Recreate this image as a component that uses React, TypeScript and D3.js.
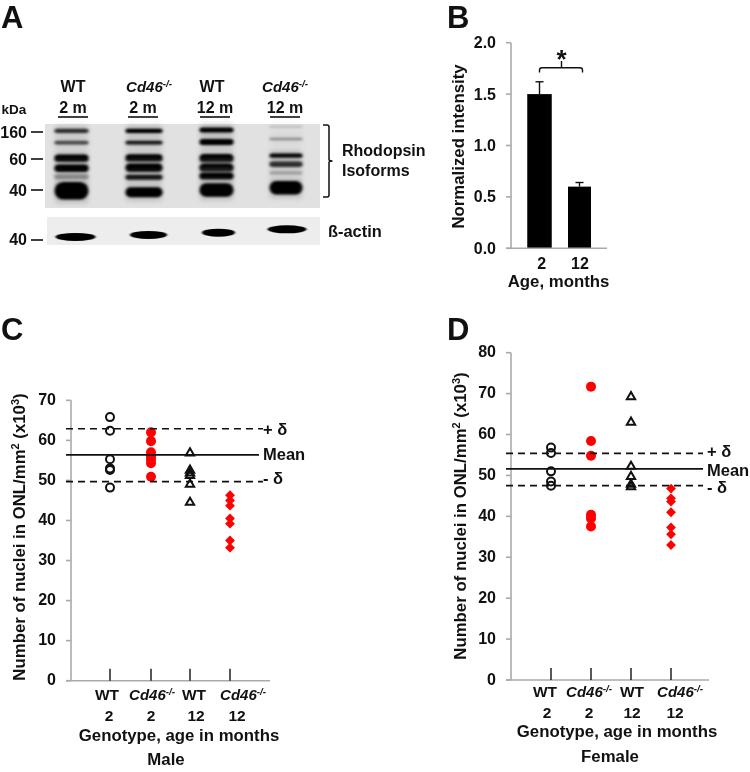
import React from "react";
import * as d3 from "d3";

const FONT = "'Liberation Sans', Arial, sans-serif";

// Panel A: lanes and bands [migration %, thickness %, darkness]
const laneNames = [["WT", "2 m"], ["Cd46", "2 m"], ["WT", "12 m"], ["Cd46", "12 m"]];
const bandLane1 = [[8.3, 5, 0.8], [22.3, 4.5, 0.68], [40.8, 9, 1], [52.7, 9, 1], [62.7, 6, 0.38], [79.4, 21, 1]];
const bandLane2 = [[8.3, 5, 1], [22.3, 4.5, 0.92], [40.5, 9, 1], [52, 10, 1], [63.4, 6, 0.92], [81.3, 12, 1]];
const bandLane3 = [[7.1, 6, 1], [21.4, 7, 1], [40.8, 10, 1], [52, 10, 1], [61.9, 8.5, 1], [78.6, 16, 1]];
const bandLane4 = [[3.2, 2.5, 0.14], [17.9, 3, 0.35], [37.7, 5, 1], [47.9, 6.5, 0.8], [58.3, 4.5, 0.25], [76, 16, 1]];
const lanes = [bandLane1, bandLane2, bandLane3, bandLane4];
const laneCentres = [71.5, 144, 216.5, 286];
const laneWidths = [34, 37, 34, 33];
const actinCentres = [75.5, 148.5, 218.5, 287];
const actinPos = [71, 64, 56, 44];
const actinWidths = [40, 37, 33, 39];

// Panel B
const ageLabels = ["2", "12"];
const barValues = [1.5, 0.6];
const barErrors = [0.12, 0.04];
const bTicks = [0, 0.5, 1, 1.5, 2];

// Panel C
const cWT2 = [65.8, 62.4, 55.3, 53.0, 52.6, 48.2];
const cKO2 = [62, 59.8, 57, 56, 55.2, 54.3, 50.9];
const cWT12 = [56.8, 52.5, 51.8, 51.2, 49, 44.5];
const cKO12 = [46.3, 45, 43.7, 40.5, 39.2, 35, 33.2];
const cLines = { mean: 56.4, plus: 62.9, minus: 49.7 };

// Panel D
const dWT2 = [56.8, 55.5, 51, 48.5, 47.5];
const dKO2 = [71.7, 58.4, 54.8, 40.4, 39.5, 37.5];
const dWT12 = [69.2, 63, 52.2, 49.7, 47.8, 47.2];
const dKO12 = [46.8, 44.4, 43.6, 41, 37.3, 35.6, 33];
const dLines = { mean: 51.6, plus: 55.4, minus: 47.5 };

const T = (p: any) => <text fontFamily={FONT} fontWeight={700} fill="#111" {...p} />;

function KO({ x, y, size = 15 }: any) {
  return (
    <T x={x} y={y} fontSize={size} textAnchor="middle">
      <tspan fontStyle="italic">Cd46</tspan>
      <tspan fontStyle="italic" fontSize={size * 0.65} dy={-size * 0.33}>-/-</tspan>
    </T>
  );
}

function Blot() {
  const py = d3.scaleLinear().domain([0, 100]).range([124, 208]);
  const dark = d3.scaleLinear<string>().domain([0, 1]).range(["#d8d8d8", "#050505"]);
  const ticksA: [string, number][] = [["160", 132], ["60", 159], ["40", 190]];
  const headWT = [73, 0, 212, 0];
  const headKO = [0, 149, 0, 285];
  const headAge = [73, 143, 215, 285];
  const ruleL = [58, 128, 200, 270];
  return (
    <g>
      <defs>
        <filter id="blur" x="-30%" y="-150%" width="160%" height="400%">
          <feGaussianBlur stdDeviation="1.6 1.3" />
        </filter>
        <filter id="haze" x="-30%" y="-150%" width="160%" height="400%">
          <feGaussianBlur stdDeviation="2.5 3" />
        </filter>
        <filter id="blur2" x="-20%" y="-100%" width="140%" height="300%">
          <feGaussianBlur stdDeviation="1 0.7" />
        </filter>
      </defs>
      <rect x={45} y={124} width={275} height={84} fill="#e1e1e1" />
      <rect x={47} y={217} width={273} height={28} fill="#ededed" />
      {lanes.map((bands, i) => {
        const w = laneWidths[i];
        return bands.map((b, j) => {
          const h = py(b[1]) - py(0);
          const y0 = py(b[0]) - h / 2;
          return (
            <g key={`${i}-${j}`}>
              <rect x={laneCentres[i] - w / 2 + 1} y={y0 - 2} width={w - 2} height={h + 4} fill="#888"
                opacity={0.6 * b[2]} filter="url(#haze)" />
              <rect x={laneCentres[i] - w / 2} y={y0} width={w} height={h} rx={h / 2} fill={dark(b[2])}
                filter="url(#blur)" />
            </g>
          );
        });
      })}
      {actinCentres.map((cx, i) => (
        <ellipse key={i} cx={cx} cy={217 + (actinPos[i] / 100) * 28} rx={actinWidths[i] / 2} ry={4}
          fill="#050505" filter="url(#blur2)" />
      ))}
      {laneNames.map((n, i) => (
        <g key={i}>
          {n[0] === "WT"
            ? <T x={headWT[i]} y={92} fontSize={16} textAnchor="middle">WT</T>
            : <KO x={headKO[i]} y={92} size={15} />}
          <T x={headAge[i]} y={113} fontSize={16} textAnchor="middle">{n[1]}</T>
          <line x1={ruleL[i]} x2={ruleL[i] + 30} y1={117} y2={117} stroke="#111" strokeWidth={1.6} />
        </g>
      ))}
      <T x={1.5} y={113.5} fontSize={13.5}>kDa</T>
      {ticksA.map(([l, y]) => (
        <g key={l}>
          <T x={27} y={y + 5.5} fontSize={16} textAnchor="end">{l}</T>
          <line x1={31} x2={43} y1={y} y2={y} stroke="#111" strokeWidth={1.6} />
        </g>
      ))}
      <T x={27} y={245} fontSize={16} textAnchor="end">40</T>
      <line x1={31} x2={43} y1={240} y2={240} stroke="#111" strokeWidth={1.6} />
      <path d="M323,125 H327 Q329,125 329,127 V159.5 Q329,161 332.5,161 Q329,161 329,162.5 V195 Q329,197 327,197 H323"
        fill="none" stroke="#111" strokeWidth={1.5} />
      <T x={342} y={156} fontSize={16}>Rhodopsin</T>
      <T x={342} y={176} fontSize={16}>Isoforms</T>
      <T x={328} y={236.5} fontSize={16.4}>ß-actin</T>
    </g>
  );
}

function BarPanel() {
  const y = d3.scaleLinear().domain([0, 2]).range([248.3, 42.7]);
  const centres = [539.5, 579.5];
  const widths = [24.5, 23];
  const labelX = [541.7, 580];
  return (
    <g>
      {barValues.map((v, i) => (
        <g key={i}>
          <line x1={centres[i]} x2={centres[i]} y1={y(v)} y2={y(v + barErrors[i])} stroke="#111" strokeWidth={1.4} />
          <line x1={centres[i] - 4} x2={centres[i] + 4} y1={y(v + barErrors[i])} y2={y(v + barErrors[i])} stroke="#111" strokeWidth={1.4} />
          <rect x={centres[i] - widths[i] / 2} width={widths[i]} y={y(v)} height={y(0) - y(v)} fill="#000" />
          <T x={labelX[i]} y={269} fontSize={16} textAnchor="middle">{ageLabels[i]}</T>
        </g>
      ))}
      <line x1={511} x2={511} y1={y(2)} y2={y(0)} stroke="#aaa" strokeWidth={1.6} />
      <line x1={506} x2={607} y1={y(0)} y2={y(0)} stroke="#aaa" strokeWidth={1.6} />
      {bTicks.map((t) => (
        <g key={t}>
          <line x1={506} x2={511} y1={y(t)} y2={y(t)} stroke="#aaa" strokeWidth={1.6} />
          <T x={496} y={y(t) + 5.5} fontSize={16} textAnchor="end">{t.toFixed(1)}</T>
        </g>
      ))}
      <path d="M539.5,72.5 V70 Q539.5,67.7 542,67.7 H580 Q582.5,67.7 582.5,70 V72.5 M561.5,67.7 V61"
        fill="none" stroke="#111" strokeWidth={1.4} />
      <T x={561.5} y={68} fontSize={26} textAnchor="middle">*</T>
      <T x={464} y={146.5} fontSize={16.8} textAnchor="middle" transform="rotate(-90 464 146.5)">Normalized intensity</T>
      <T x={558.5} y={287} fontSize={16.8} textAnchor="middle">Age, months</T>
    </g>
  );
}

function Marks({ values, cx, y, kind }: any) {
  return values.map((v: number, i: number) => {
    const cy = y(v);
    if (kind === "open-circle")
      return <circle key={i} cx={cx} cy={cy} r={4} fill="none" stroke="#111" strokeWidth={2} />;
    if (kind === "red-circle")
      return <circle key={i} cx={cx} cy={cy} r={5} fill="#fe0000" />;
    if (kind === "triangle") {
      const p = d3.symbol().type(d3.symbolTriangle).size(30)();
      return <path key={i} d={p!} transform={`translate(${cx},${cy})`} fill="none" stroke="#111" strokeWidth={2} />;
    }
    const p = d3.symbol().type(d3.symbolSquare).size(48)();
    return <path key={i} d={p!} transform={`translate(${cx},${cy}) rotate(45)`} fill="#fe0000" />;
  });
}

function Scatter({ axisX, top, bottom, xEnd, yMax, ticks, groups, lines, tickXs, lineEnd, dashEnd, labelXs, numXs, labelVals, labelRow1, labelRow2,
  titleY, title, titleX, xTitleX, xTitleY, yTitleX, yTitleCy, plusY, meanY, minusY, minusText, endLabelX }: any) {
  const y = d3.scaleLinear().domain([0, yMax]).range([bottom, top]);
  const kinds = ["open-circle", "red-circle", "triangle", "diamond"];
  return (
    <g>
      <line x1={axisX} x2={axisX} y1={top} y2={bottom} stroke="#aaa" strokeWidth={1.6} />
      <line x1={axisX - 5} x2={xEnd} y1={bottom} y2={bottom} stroke="#aaa" strokeWidth={1.6} />
      {ticks.map((t: number) => (
        <g key={t}>
          <line x1={axisX - 5} x2={axisX} y1={y(t)} y2={y(t)} stroke="#aaa" strokeWidth={1.6} />
          <T x={axisX - 15} y={y(t) + 4.5} fontSize={16} textAnchor="end">{t}</T>
        </g>
      ))}
      {tickXs.map((x: number, i: number) => (
        <g key={i}>
          <line x1={x} x2={x} y1={bottom - 12} y2={bottom} stroke="#111" strokeWidth={1.4} />
          <Marks values={groups[i]} cx={x} y={y} kind={kinds[i]} />
          {i % 2 === 0
            ? <T x={labelXs[i]} y={labelRow1} fontSize={15.5} textAnchor="middle">WT</T>
            : <KO x={labelXs[i]} y={labelRow1} size={15} />}
          <T x={numXs[i]} y={labelRow2} fontSize={15.5} textAnchor="middle">{labelVals[i]}</T>
        </g>
      ))}
      <line x1={axisX - 5} x2={lineEnd} y1={y(lines.mean)} y2={y(lines.mean)} stroke="#111" strokeWidth={1.7} />
      <line x1={axisX - 5} x2={dashEnd} y1={y(lines.plus)} y2={y(lines.plus)} stroke="#111" strokeWidth={1.7} strokeDasharray="7 5" />
      <line x1={axisX - 5} x2={dashEnd} y1={y(lines.minus)} y2={y(lines.minus)} stroke="#111" strokeWidth={1.7} strokeDasharray="7 5" />
      <T x={endLabelX} y={plusY} fontSize={16.5}>+ δ</T>
      <T x={endLabelX} y={meanY} fontSize={16.5}>Mean</T>
      <T x={endLabelX} y={minusY} fontSize={16.5}>{minusText}</T>
      <T x={xTitleX} y={xTitleY} fontSize={16.8} textAnchor="middle">Genotype, age in months</T>
      <T x={titleX} y={titleY} fontSize={16.8} textAnchor="middle">{title}</T>
      <T x={yTitleX} y={yTitleCy} fontSize={16.8} textAnchor="middle" transform={`rotate(-90 ${yTitleX} ${yTitleCy})`}>
        <tspan>Number of nuclei in ONL/mm</tspan>
        <tspan fontSize={11} dy={-6}>2</tspan>
        <tspan dy={6}> (x10</tspan>
        <tspan fontSize={11} dy={-6}>3</tspan>
        <tspan dy={6}>)</tspan>
      </T>
    </g>
  );
}

export default function App() {
  return (
    <svg width={750} height={772} viewBox="0 0 750 772"
      style={{ position: "absolute", left: 0, top: 0, background: "#fff", filter: "blur(0.35px)" }}>
      <T x={1} y={28} fontSize={31}>A</T>
      <T x={447} y={28} fontSize={31}>B</T>
      <T x={1} y={340} fontSize={31}>C</T>
      <T x={447} y={340} fontSize={31}>D</T>
      <Blot />
      <BarPanel />
      <Scatter axisX={71} top={400.3} bottom={680.7} xEnd={270} yMax={70} ticks={d3.range(0, 71, 10)}
        groups={[cWT2, cKO2, cWT12, cKO12]} lines={cLines} tickXs={[110, 151, 190, 230]}
        lineEnd={259} dashEnd={263} labelXs={[107, 152, 194, 243]} numXs={[109, 151, 196, 237]} labelVals={[2, 2, 12, 12]}
        labelRow1={700} labelRow2={721} xTitleX={179} xTitleY={741} titleX={166} titleY={765} title="Male"
        yTitleX={25} yTitleCy={537} plusY={435} meanY={460} minusY={484} minusText="- δ" endLabelX={263} />
      <Scatter axisX={511} top={352.7} bottom={680} xEnd={709} yMax={80} ticks={d3.range(0, 81, 10)}
        groups={[dWT2, dKO2, dWT12, dKO12]} lines={dLines} tickXs={[551, 591, 631, 671]}
        lineEnd={703} dashEnd={703} labelXs={[545, 589, 632, 680]} numXs={[547, 589, 632, 675]} labelVals={[2, 2, 12, 12]}
        labelRow1={697} labelRow2={718} xTitleX={617} xTitleY={737} titleX={610} titleY={762} title="Female"
        yTitleX={466} yTitleCy={516} plusY={457} meanY={476} minusY={493} minusText="- δ" endLabelX={707} />
    </svg>
  );
}
